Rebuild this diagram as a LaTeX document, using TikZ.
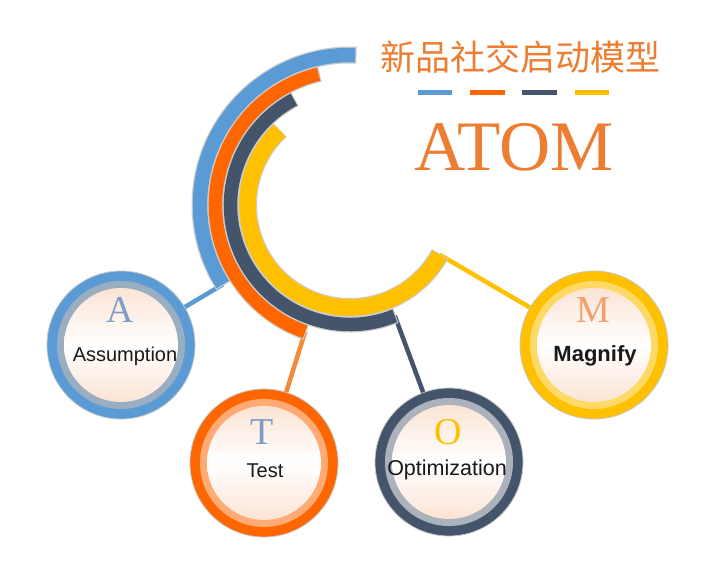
\documentclass[tikz,border=0pt]{standalone}
\usepackage{fontspec}
\usetikzlibrary{calc}
\setmainfont{Liberation Serif}
\setsansfont{Liberation Sans}
\newfontfamily\cjkfont{Noto Sans CJK SC}
\definecolor{blueC}{HTML}{5B9BD5}
\definecolor{orangeC}{HTML}{FF6600}
\definecolor{darkC}{HTML}{44546A}
\definecolor{yellowC}{HTML}{FFC000}
\definecolor{titleC}{HTML}{ED7D31}
\definecolor{orangeLink}{HTML}{F08A3C}
\definecolor{peach}{HTML}{FBE4D5}
\definecolor{letterBlue}{HTML}{7F9BC8}
\definecolor{letterOrange}{HTML}{F2A06C}
\begin{document}
\begin{tikzpicture}[x=1pt,y=-1pt,
  band/.style={line width=#1, line cap=butt},
  ringnode/.style={circle, minimum size=148pt, inner sep=0pt, fill=#1, draw=gray!45, line width=0.8pt},
  link/.style={line width=4.5pt, line cap=butt},
  bigletter/.style={font=\fontsize{38}{38}\selectfont, inner sep=0pt},
  txtlabel/.style={font=\sffamily\fontsize{#1}{#1}\selectfont, text=black!90, inner sep=0pt, anchor=base},
  dashbar/.style={line width=5pt}]
\useasboundingbox (0,0) rectangle (720,568);
\fill[white] (0,0) rectangle (720,568);

% arc end coordinates (centre 350,205)
\coordinate (ctr) at (350,205);
\coordinate (bend) at ($(ctr)+(-212:150)$);
\coordinate (oend) at ($(ctr)+(-250.5:134.5)$);
\coordinate (dend) at ($(ctr)+(-292:119.5)$);
\coordinate (yend) at ($(ctr)+(-331:102.5)$);

% circles (nodes)
\node[ringnode=blueC] (A) at (121,345) {};
\node[ringnode=orangeC] (T) at (264,463) {};
\node[ringnode=darkC] (O) at (449,462) {};
\node[ringnode=yellowC] (M) at (594,345) {};

% connectors
\draw[link, blueC] (bend) -- (A);
\draw[link, orangeLink] (oend) -- (T);
\draw[link, darkC] (dend) -- (O);
\draw[link, yellowC] (yend) -- (M);

% arcs: grey edge then colour
\draw[band=17pt, gray!40] (ctr) ++(-87.5:150) arc[start angle=-87.5, end angle=-212.5, radius=150];
\draw[band=14.5pt, blueC] (ctr) ++(-88:150) arc[start angle=-88, end angle=-212, radius=150];
\draw[band=16pt, gray!40] (ctr) ++(-103:134.5) arc[start angle=-103, end angle=-251, radius=134.5];
\draw[band=13.5pt, orangeC] (ctr) ++(-103.5:134.5) arc[start angle=-103.5, end angle=-250.5, radius=134.5];
\draw[band=16pt, gray!40] (ctr) ++(-117.5:119.5) arc[start angle=-117.5, end angle=-292.5, radius=119.5];
\draw[band=13.5pt, darkC] (ctr) ++(-118:119.5) arc[start angle=-118, end angle=-292, radius=119.5];
\draw[band=19pt, gray!40] (ctr) ++(-133:102.5) arc[start angle=-133, end angle=-331.5, radius=102.5];
\draw[band=16.5pt, yellowC] (ctr) ++(-133.5:102.5) arc[start angle=-133.5, end angle=-331, radius=102.5];

% inner parts of circles
\fill[blueC!45!gray!70] (A.center) circle[radius=64];
\fill[orangeC!55!white] (T.center) circle[radius=64];
\fill[darkC!45!white] (O.center) circle[radius=64];
\fill[yellowC!60!white] (M.center) circle[radius=64];
\foreach \n in {A,T,O,M}{
  \shade[top color=peach, bottom color=peach, middle color=white] (\n.center) circle[radius=57];
}

% letters
\node[bigletter, text=letterBlue] (la) at (120,310) {A};
\node[bigletter, text=letterBlue] (lt) at (262,432) {T};
\node[bigletter, text=yellowC] (lo) at (448,432) {O};
\node[bigletter, text=letterOrange] (lm) at (593,310) {M};

% labels
\node[txtlabel=20] (ta) at (125,361) {Assumption};
\node[txtlabel=20] (tt) at (265,477) {Test};
\node[txtlabel=21.5] (to) at (447,475) {Optimization};
\node[txtlabel=22, font=\sffamily\bfseries\fontsize{22}{22}\selectfont] (tm) at (595,361) {Magnify};

% title
\node[font=\cjkfont\fontsize{35}{35}\selectfont, text=titleC, inner sep=0pt] (title) at (520,57) {新品社交启动模型};
\draw[dashbar, blueC] (418,92) -- (452,92);
\draw[dashbar, orangeC] (470,92) -- (505,92);
\draw[dashbar, darkC] (522,92) -- (557,92);
\draw[dashbar, yellowC] (575,92) -- (609,92);
\node[font=\fontsize{71}{71}\selectfont, text=titleC, inner sep=0pt, anchor=base] (atom) at (514,170) {ATOM};
\end{tikzpicture}
\end{document}
